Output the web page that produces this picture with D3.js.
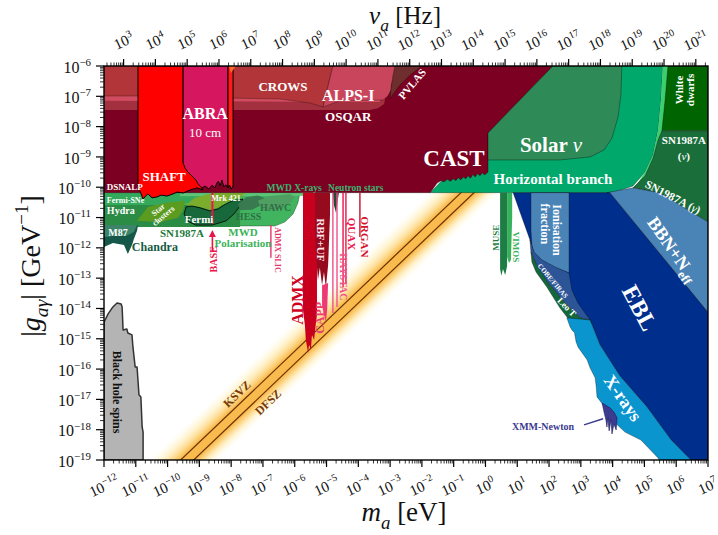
<!DOCTYPE html>
<html>
<head>
<meta charset="utf-8">
<title>Axion–photon coupling limits</title>
<script src="https://cdn.jsdelivr.net/npm/d3@7/dist/d3.min.js"></script>
<style>
  html, body { margin: 0; padding: 0; background: #ffffff; }
  svg { display: block; font-family: "Liberation Serif", "DejaVu Serif", serif; }
</style>
</head>
<body>
<svg id="chart" width="718" height="535"></svg>
<script>
// ---------- axes (log10 units) ----------
const massExponents = d3.range(-12, 8);          // m_a [eV]
const couplingExponents = d3.range(-19, -5);     // g [GeV^-1]
const freqExponents = d3.range(3, 22);           // nu_a [Hz]
const HZ_PER_EV = 2.418e14;

// ---------- QCD axion models: [log10 m, log10 g] ----------
const KSVZ_LINE = [[-13, -22.41], [1, -8.41]];
const DFSZ_LINE = [[-13, -22.82], [1, -8.82]];
const QCD_BAND = [[-13, -21.41], [4, -4.41], [4, -6.61], [-13, -23.61]];
const BAND_UP = 1.0, BAND_DOWN = 1.2, KSVZ_OFFSET = -9.41;

// ---------- excluded regions: [log10 m_a/eV, log10 g/GeV^-1] ----------
const CAST = [[-12,-6],[2.12,-6],[0.08,-8.21],[0.08,-9.50],[-0.03,-9.60],[-0.10,-9.52],[-0.17,-9.62],[-0.25,-9.55],[-0.32,-9.66],[-0.40,-9.58],[-0.47,-9.70],[-0.55,-9.62],[-0.62,-9.72],[-0.70,-9.66],[-0.78,-9.76],[-0.85,-9.68],[-0.93,-9.78],[-1.02,-9.72],[-1.10,-9.80],[-1.20,-9.74],[-1.30,-9.82],[-1.40,-9.79],[-1.52,-9.86],[-1.74,-10.18],[-12,-10.18]];
const HORIZONTAL_BRANCH = [[-1.74,-10.18],[0.08,-8.21],[2.12,-6],[5.58,-6],[5.52,-7.12],[5.43,-8.11],[5.27,-8.94],[5.02,-9.50],[4.64,-9.96],[4.07,-10.16],[3.82,-10.18]];
const HB_EDGE = [[5.58,-6],[5.77,-6],[5.67,-7.2],[5.56,-8.2],[5.41,-8.9],[5.16,-9.55],[4.92,-9.86],[4.72,-9.97],[5.02,-9.50],[5.27,-8.94],[5.43,-8.11],[5.52,-7.12]];
const SOLAR_NU = [[2.12,-6],[4.29,-6],[4.26,-6.96],[4.17,-7.68],[3.98,-8.38],[3.73,-8.77],[3.29,-9.00],[2.34,-9.10],[0.08,-9.10],[0.08,-8.21]];
const WHITE_DWARFS = [[5.74,-6],[7,-6],[7,-8.14],[5.55,-8.14],[5.65,-7.12]];
const SN1987A_NU = [[5.55,-8.14],[7,-8.14],[7,-11.15],[5.49,-10.19],[4.64,-10.02],[5.02,-9.63],[5.27,-9.04],[5.43,-8.44]];

const OSQAR = [[-12,-6],[-3.32,-6],[-3.13,-6.96],[-3.19,-7.25],[-3.38,-7.39],[-3.63,-7.45],[-12,-7.45]];
const PINK_BAND = [[-12,-6],[-3.38,-6],[-3.32,-7.19],[-12,-7.15]];
const CROWS = [[-12,-6],[-4.80,-6],[-4.95,-6.63],[-5.05,-7.06],[-5.11,-7.35],[-5.52,-7.22],[-6.46,-7.09],[-7.94,-7.06],[-10.93,-6.99],[-12,-6.99]];
const ALPS_I = [[-4.80,-6],[-2.75,-6],[-2.80,-6.08],[-2.85,-6.13],[-2.83,-6.22],[-2.91,-6.33],[-2.89,-6.42],[-2.94,-6.53],[-2.97,-6.79],[-3.07,-6.99],[-3.22,-7.12],[-4.58,-7.15],[-5.11,-7.35],[-5.02,-6.96],[-4.92,-6.53]];
const PVLAS = [[-2.85,-6],[-2.00,-6],[-2.37,-6.30],[-2.69,-6.63],[-2.88,-6.89],[-3.00,-7.09],[-2.97,-6.73],[-2.91,-6.33]];

const SHAFT = [[-10.93,-6],[-9.51,-6],[-9.51,-9.20],[-8.98,-9.93],[-8.89,-10.09],[-9.07,-10.02],[-9.29,-10.09],[-9.51,-10.19],[-9.70,-10.16],[-9.83,-10.22],[-10.02,-10.29],[-10.20,-10.26],[-10.33,-10.32],[-10.49,-10.35],[-10.62,-10.22],[-10.70,-10.30],[-10.77,-10.39],[-10.87,-10.12],[-10.93,-9.93]];
const ABRA = [[-9.51,-6],[-8.10,-6],[-8.10,-10.02],[-8.17,-9.92],[-8.23,-9.99],[-8.29,-9.76],[-8.35,-9.96],[-8.40,-9.80],[-8.45,-9.86],[-8.51,-10.02],[-8.60,-9.93],[-8.70,-10.06],[-8.82,-9.96],[-8.92,-10.02],[-9.04,-9.89],[-9.11,-9.76],[-9.23,-9.63],[-9.36,-9.50],[-9.45,-9.37],[-9.51,-9.20]];
const ABRA_STRIP = [[-8.10,-6],[-7.94,-6],[-7.94,-9.96],[-8.00,-10.06],[-8.05,-9.93],[-8.10,-10.02]];
const ABRA_TIP = [[-8.07,-6],[-7.85,-6],[-8.01,-6.23]];

// astrophysical bounds below the CAST line
const MWD_POLARISATION = [[-12,-10.18],[-5.83,-10.18],[-5.90,-10.52],[-6.05,-10.88],[-6.31,-11.15],[-6.62,-11.28],[-12,-11.28]];
const FERMI_SNE = [[-12,-10.18],[-8.51,-10.18],[-8.82,-10.32],[-9.29,-10.52],[-10.55,-10.59],[-12,-10.59]];
const MWD_XRAYS = [[-9.61,-10.18],[-4.99,-10.18],[-5.20,-10.28],[-9.61,-10.30]];
const HYDRA = [[-12,-10.59],[-10.87,-10.59],[-10.96,-10.85],[-11.05,-11.01],[-12,-11.01]];
const SN1987A_GAMMA = [[-12,-10.59],[-7.72,-10.59],[-7.72,-11.31],[-12,-11.31]];
const STAR_CLUSTERS = [[-10.96,-11.11],[-10.62,-10.65],[-10.08,-10.52],[-9.45,-10.45],[-9.51,-10.75],[-9.67,-11.01],[-10.24,-11.15]];
const MRK421 = [[-9.42,-10.59],[-9.14,-10.35],[-8.82,-10.26],[-8.51,-10.19],[-7.56,-10.19],[-7.72,-10.35],[-7.97,-10.42],[-8.23,-10.55],[-8.41,-10.68],[-8.67,-10.75],[-8.98,-10.65],[-9.23,-10.62]];
const FERMI = [[-9.48,-10.88],[-9.42,-10.65],[-9.23,-10.62],[-8.98,-10.68],[-8.67,-10.78],[-8.41,-10.72],[-8.23,-10.59],[-7.97,-10.45],[-7.63,-10.39],[-7.72,-10.62],[-7.91,-10.88],[-8.16,-11.11],[-8.60,-11.25],[-9.11,-11.25],[-9.39,-11.11]];
const HESS = [[-7.78,-10.55],[-7.53,-10.33],[-7.16,-10.27],[-6.90,-10.37],[-7.03,-10.58],[-7.34,-10.74],[-7.72,-10.76]];
const HAWC = [[-7.16,-10.45],[-6.78,-10.29],[-6.15,-10.22],[-5.99,-10.32],[-6.21,-10.59],[-6.62,-10.75],[-7.03,-10.75]];
const CHANDRA = [[-12,-11.25],[-10.93,-11.25],[-10.96,-11.44],[-11.06,-11.71],[-11.12,-11.91],[-11.25,-12.20],[-11.37,-11.91],[-11.72,-11.84],[-12,-11.97]];
const M87 = [[-12,-11.25],[-10.96,-11.25],[-11.06,-11.48],[-11.31,-11.61],[-11.69,-11.61],[-12,-11.64]];
const NEUTRON_STARS = [[-4.80,-10.18],[-4.61,-10.18],[-4.67,-10.59],[-4.70,-10.85],[-4.77,-10.59]];
const BLACK_HOLE_SPINS = [[-12,-19],[-12,-14.45],[-11.87,-14.18],[-11.72,-13.95],[-11.59,-13.82],[-11.46,-13.85],[-11.43,-13.95],[-11.40,-14.71],[-11.28,-14.68],[-11.25,-14.81],[-11.12,-14.87],[-11.09,-15.27],[-11.02,-15.93],[-10.96,-15.93],[-10.90,-16.85],[-10.84,-16.92],[-10.80,-17.91],[-10.77,-18.08],[-10.77,-19]];

// cosmology / X-ray / telescope bounds
const EBL = [[0.87,-10.18],[3.92,-10.18],[7,-14.12],[7,-19],[6.46,-19],[5.84,-18.34],[5.49,-17.84],[5.08,-17.25],[4.23,-16.23],[3.60,-15.20],[3.29,-14.38],[2.91,-13.89],[2.50,-13.39],[2.03,-12.99],[1.71,-12.57],[1.50,-12.07],[1.40,-11.74]];
const BBN_NEFF = [[3.82,-10.18],[4.64,-10.02],[5.49,-10.19],[7,-11.15],[7,-14.12],[3.92,-10.18]];
const IONISATION = [[1.43,-10.18],[2.63,-10.18],[2.63,-12.83],[2.19,-12.66],[1.78,-12.47],[1.53,-12.24],[1.46,-11.91],[1.43,-11.41]];
const COBE_FIRAS = [[1.40,-11.74],[1.53,-12.14],[1.78,-12.40],[2.19,-12.63],[2.63,-12.83],[2.72,-13.39],[2.91,-13.82],[3.29,-14.38],[2.97,-14.31],[2.50,-13.82],[1.97,-13.16],[1.62,-12.60],[1.43,-12.14]];
const LEO_T = [[1.43,-12.14],[1.62,-12.60],[1.97,-13.16],[2.50,-13.82],[2.97,-14.31],[3.29,-14.38],[3.35,-14.50],[2.66,-14.41],[2.34,-13.98],[1.93,-13.29],[1.59,-12.80],[1.46,-12.47]];
const XRAYS = [[2.56,-14.31],[2.66,-14.60],[2.72,-14.71],[2.80,-14.80],[2.85,-15.10],[2.91,-15.27],[3.10,-15.55],[3.20,-15.70],[3.29,-15.96],[3.45,-16.29],[3.48,-16.55],[3.51,-16.92],[3.70,-17.18],[3.98,-17.68],[4.39,-18.08],[4.89,-18.34],[5.43,-18.93],[5.46,-19],[6.46,-19],[5.84,-18.34],[5.49,-17.84],[5.08,-17.25],[4.23,-16.23],[3.60,-15.20],[3.29,-14.38]];
const XMM_NEWTON = [[3.67,-17.12],[3.73,-17.42],[3.79,-17.68],[3.82,-17.91],[3.85,-17.61],[3.89,-18.04],[3.95,-17.68],[3.98,-18.14],[4.04,-17.81],[4.11,-18.01],[4.14,-17.61],[4.04,-17.42],[3.92,-17.28]];
const XMM_POINTER = [[3.10,-17.84],[3.70,-17.64]];
const MUSE = [[0.46,-10.18],[0.68,-10.18],[0.68,-12.60],[0.62,-12.90],[0.55,-12.70],[0.50,-12.92],[0.46,-12.70]];
const VIMOS = [[0.68,-10.18],[0.84,-10.18],[0.84,-11.00],[0.80,-12.40],[0.74,-12.50],[0.68,-12.30]];

// haloscopes
const ADMX = [[-5.74,-10.18],[-5.30,-10.18],[-5.30,-14.21],[-5.36,-14.71],[-5.39,-15.04],[-5.46,-14.87],[-5.49,-15.37],[-5.55,-15.20],[-5.58,-15.47],[-5.65,-15.04],[-5.68,-14.55],[-5.74,-14.05]];
const RBF_UF = [[-5.36,-10.18],[-4.89,-10.18],[-4.89,-10.92],[-4.92,-11.74],[-4.95,-12.57],[-5.02,-13.32],[-5.08,-12.80],[-5.14,-13.23],[-5.21,-12.66],[-5.27,-13.06],[-5.33,-12.24],[-5.36,-11.41]];
const CAPP = [[-5.14,-13.23],[-4.95,-13.16],[-4.98,-14.05],[-5.02,-14.45],[-5.08,-14.21],[-5.14,-13.89]];
// [log10 m, upper log10 g, lower log10 g]
const HAYSTAC_LINES = [[-4.80,-10.18,-14.15],[-4.67,-10.18,-13.95]];
const QUAX_LINES = [[-4.48,-10.18,-13.29],[-4.39,-10.18,-13.16]];
const ORGAN_LINES = [[-3.95,-10.18,-11.64]];
const ADMX_SLIC_LINES = [[-6.75,-11.25,-12.33]];
const BASE_LINES = [[-8.59,-10.18,-11.21]];
const BASE_ARROW = [-8.59, -12.14, -11.41];

// ---------- scales ----------
const svg = d3.select('#chart');
const M = { l: 104, r: 708, t: 66, b: 460 };
const x = d3.scaleLog().domain([1e-12, 1e7]).range([M.l, M.r]);
const y = d3.scaleLog().domain([1e-19, 1e-6]).range([M.b, M.t]);
const xf = d3.scaleLog().domain([1e-12 * HZ_PER_EV, 1e7 * HZ_PER_EV]).range([M.l, M.r]);
const X = lm => x(Math.pow(10, lm));
const Y = lg => y(Math.pow(10, lg));
const lineGen = d3.line().x(p => X(p[0])).y(p => Y(p[1]));
const areaPath = pts => lineGen(pts) + 'Z';

const defs = svg.append('defs');
defs.append('clipPath').attr('id', 'plotClip')
  .append('rect').attr('x', M.l).attr('y', M.t).attr('width', M.r - M.l).attr('height', M.b - M.t);

// gradient across the QCD band (perpendicular to the g ∝ m lines)
const sx = X(1) - X(0), sy = Y(-10) - Y(-9);
const nrm = Math.hypot(sx, sy);
const gx0 = X(-8), gy0 = Y(-8 + KSVZ_OFFSET + BAND_UP);
const span = (BAND_UP + BAND_DOWN) * sy * sx / nrm;
const grad = defs.append('linearGradient').attr('id', 'qcdBand')
  .attr('gradientUnits', 'userSpaceOnUse')
  .attr('x1', gx0).attr('y1', gy0)
  .attr('x2', gx0 + span * sy / nrm).attr('y2', gy0 + span * sx / nrm);
const fOff = o => (BAND_UP - o) / (BAND_UP + BAND_DOWN);
[[1.0, '#fff3c0', 0], [0.6, '#ffe69a', 0.45], [0.25, '#fdd27a', 0.9], [0.05, '#f9bb4e', 1],
 [-0.46, '#f9bb4e', 1], [-0.66, '#fdd27a', 0.85], [-0.9, '#ffe69a', 0.4], [-1.2, '#fff3c0', 0]]
  .forEach(([o, c, a]) => grad.append('stop').attr('offset', fOff(o)).attr('stop-color', c).attr('stop-opacity', a));

const plot = svg.append('g').attr('clip-path', 'url(#plotClip)');
const edge = 'rgba(0,0,0,0.55)';
function region(pts, fill, stroke, sw) {
  plot.append('path').attr('d', areaPath(pts)).attr('fill', fill)
    .attr('stroke', stroke || 'none').attr('stroke-width', sw || 0.6).attr('stroke-linejoin', 'round');
}

// QCD band and model lines
plot.append('path').attr('d', areaPath(QCD_BAND)).attr('fill', 'url(#qcdBand)');
[KSVZ_LINE, DFSZ_LINE].forEach(l => plot.append('path').attr('d', lineGen(l))
  .attr('stroke', '#6b3000').attr('stroke-width', 1.2).attr('fill', 'none'));

region(BLACK_HOLE_SPINS, '#b4b4b4', '#333', 1.5);

// astrophysical bounds
region(MWD_POLARISATION, '#41b45f', edge, 0.5);
region(FERMI_SNE, '#34a85b');
region(MWD_XRAYS, '#5ec477');
region(HYDRA, '#46b38b');
region(SN1987A_GAMMA, '#2b8c45');
region(STAR_CLUSTERS, '#5b9b1f');
region(MRK421, '#7cac2b');
region(FERMI, '#17683b', '#000', 0.8);
region(HESS, '#3a7a50');
region(HAWC, '#4f9f62');
region(CHANDRA, '#15584a');
region(M87, '#3b8468');
region(NEUTRON_STARS, '#1d4d35');

// helioscope / stellar bounds
region(HORIZONTAL_BRANCH, '#00a86b', edge);
region(HB_EDGE, '#3ccf6e');
region(CAST, '#7b0021', edge);
region(SOLAR_NU, '#2e8b57', edge);
region(WHITE_DWARFS, '#006400', edge);
region(SN1987A_NU, '#1a6e3a', edge);

// light-shining-through-wall and birefringence
region(OSQAR, '#a2303e');
region(PINK_BAND, '#d24c60');
region(CROWS, '#b13539', edge, 0.5);
region(ALPS_I, '#c9455b', edge, 0.5);
region(PVLAS, '#6e2e2e', edge, 0.5);

// lumped-element searches
region(SHAFT, '#ff0000', '#000', 1);
region(ABRA, '#d6175f', '#000', 0.9);
region(ABRA_STRIP, '#ff1a1a', '#000', 1);
region(ABRA_TIP, '#ff6a2a');

// cosmology and X-rays
region(EBL, '#002e8c', edge);
region(BBN_NEFF, '#4a84b6', edge);
region(IONISATION, '#4a84b6', edge);
region(COBE_FIRAS, '#2c5598', edge);
region(LEO_T, '#14693a', edge);
region(XRAYS, '#0a95cf', edge);
region(XMM_NEWTON, '#3b3b8f', '#1c1c60', 0.6);
plot.append('path').attr('d', lineGen(XMM_POINTER)).attr('stroke', '#3b3b8f').attr('stroke-width', 1.4);
region(MUSE, '#1d7d45');
region(VIMOS, '#38b15c');

// haloscopes
region(ADMX, '#c8001e');
region(RBF_UF, '#960a1e');
region(CAPP, '#ee3a72');
function vlines(list, color, w) {
  list.forEach(([m, g1, g2]) => plot.append('line')
    .attr('x1', X(m)).attr('x2', X(m)).attr('y1', Y(g1)).attr('y2', Y(g2))
    .attr('stroke', color).attr('stroke-width', w || 1.4));
}
vlines(HAYSTAC_LINES, '#f0508a');
vlines(QUAX_LINES, '#e8174a');
vlines(ORGAN_LINES, '#c8102e');
vlines(ADMX_SLIC_LINES, '#e8336b');
vlines(BASE_LINES, '#e8174a', 2);
plot.append('line').attr('x1', X(BASE_ARROW[0])).attr('x2', X(BASE_ARROW[0]))
  .attr('y1', Y(BASE_ARROW[1])).attr('y2', Y(BASE_ARROW[2]) + 5)
  .attr('stroke', '#e8174a').attr('stroke-width', 1.6);
plot.append('path').attr('fill', '#e8174a')
  .attr('d', `M${X(BASE_ARROW[0])},${Y(BASE_ARROW[2])} l-3.5,7 l7,0 Z`);

// ---------- labels ----------
function drawText(parent, segs, px, py, opt) {
  const size = opt.size || 12;
  const g = parent.append('g').attr('transform', `translate(${px},${py}) rotate(${opt.rot || 0})`);
  (opt.lines || [segs]).forEach((line, li) => {
    const t = g.append('text').attr('x', 0).attr('y', size * 0.35 + li * size * (opt.lh || 1.05))
      .attr('text-anchor', opt.anchor || 'middle')
      .attr('font-size', size).attr('fill', opt.fill || '#fff')
      .attr('font-weight', opt.weight || 'bold');
    let cur = 0;
    line.forEach(([s, mode]) => {
      const ts = t.append('tspan').text(s);
      let target = 0;
      if (mode && mode.includes('sub')) { target = size * 0.28; ts.attr('font-size', size * 0.7); }
      if (mode && mode.includes('sup')) { target = -size * 0.42; ts.attr('font-size', size * 0.68); }
      if (mode && mode.includes('it')) ts.attr('font-style', 'italic');
      if (mode && mode.includes('nb')) ts.attr('font-weight', 'normal');
      if (target !== cur) { ts.attr('dy', target - cur); cur = target; }
    });
  });
  return g;
}
const bandAngle = -Math.atan2(sy, sx) * 180 / Math.PI;
const LABELS = [
  { t: [['CROWS']], at: [-6.37, -6.66], size: 13 },
  { t: [['ALPS-I']], at: [-4.32, -6.96], size: 16 },
  { t: [['OSQAR']], at: [-4.32, -7.65], size: 13 },
  { t: [['PVLAS']], at: [-2.31, -6.59], size: 11, rot: -50 },
  { t: [['ABRA']], at: [-8.82, -7.58], size: 16 },
  { t: [['10 cm', 'nb']], at: [-8.82, -8.18], size: 13 },
  { t: [['SHAFT']], at: [-10.11, -9.63], size: 13 },
  { t: [['DSNALP']], at: [-11.91, -9.99], size: 9, anchor: 'start' },
  { t: [['CAST']], at: [-0.99, -9.02], size: 23 },
  { t: [['Solar '], ['ν', 'it nb']], at: [2.06, -8.60], size: 21 },
  { t: [['Horizontal branch']], at: [2.12, -9.72], size: 15 },
  { lines: [[['White']], [['dwarfs']]], at: [6.10, -6.79], size: 11, rot: -90, lh: 0.95 },
  { t: [['SN1987A']], at: [6.24, -8.44], size: 11 },
  { t: [['('], ['ν', 'it nb'], [')']], at: [6.24, -8.97], size: 11 },
  { t: [['SN1987A ('], ['γ', 'it nb'], [')']], at: [5.90, -10.32], size: 11.5, rot: 27 },
  { t: [['BBN+N'], ['eff', 'sub']], at: [5.90, -12.04], size: 18, rot: 55 },
  { t: [['EBL']], at: [4.86, -13.98], size: 24, rot: 62 },
  { t: [['X-rays']], at: [4.33, -16.95], size: 18, rot: 55 },
  { t: [['Ionisation']], at: [2.25, -11.41], size: 12, rot: 90 },
  { t: [['fraction']], at: [1.87, -11.21], size: 12, rot: 90 },
  { t: [['COBE/FIRAS']], at: [2.12, -13.09], size: 7, rot: 50 },
  { t: [['Leo T']], at: [2.56, -13.95], size: 9, rot: 45 },
  { t: [['XMM-Newton']], at: [1.81, -17.91], size: 10, fill: '#3b3b8f' },
  { t: [['MUSE']], at: [0.33, -11.67], size: 9, rot: -90, fill: '#1d7d45' },
  { t: [['VIMOS']], at: [0.96, -11.97], size: 9, rot: 90, fill: '#38b15c' },
  { t: [['Black hole spins']], at: [-11.59, -16.76], size: 12, rot: 90, fill: '#111' },
  { t: [['KSVZ']], at: [-7.82, -16.82], size: 12, rot: bandAngle, fill: '#7a3a05' },
  { t: [['DFSZ']], at: [-6.84, -17.09], size: 12, rot: bandAngle, fill: '#7a3a05' },
  { t: [['ADMX']], at: [-5.93, -13.72], size: 16, rot: -90, fill: '#d0001e' },
  { t: [['RBF+UF']], at: [-5.17, -11.74], size: 11, rot: 90, fill: '#ffe6ec' },
  { t: [['CAPP']], at: [-5.21, -14.31], size: 12, rot: -90, fill: '#ee3a72' },
  { t: [['HAYSTAC']], at: [-4.48, -12.96], size: 10, rot: 90, fill: '#f0508a' },
  { t: [['QUAX']], at: [-4.20, -11.54], size: 11, rot: 90, fill: '#e8174a' },
  { t: [['ORGAN']], at: [-3.79, -11.64], size: 11, rot: 90, fill: '#d4102a' },
  { t: [['ADMX SLIC']], at: [-6.53, -12.07], size: 8, rot: 90, fill: '#e8336b' },
  { t: [['BASE']], at: [-8.57, -12.38], size: 10, rot: -90, fill: '#e8174a' },
  { t: [['MWD']], at: [-7.63, -11.48], size: 11, fill: '#3cb35a' },
  { t: [['Polarisation']], at: [-7.63, -11.84], size: 11, fill: '#3cb35a' },
  { t: [['SN1987A']], at: [-9.55, -11.51], size: 11, fill: '#1a7a3a' },
  { t: [['Chandra']], at: [-10.40, -11.97], size: 12, fill: '#145a46' },
  { t: [['M87']], at: [-11.56, -11.48], size: 10 },
  { t: [['Hydra']], at: [-11.91, -10.78], size: 10, anchor: 'start' },
  { t: [['Fermi-SNe']], at: [-11.91, -10.42], size: 8, anchor: 'start' },
  { lines: [[['Star']], [['clusters']]], at: [-10.30, -10.74], size: 8, rot: -40, lh: 1.0 },
  { t: [['Fermi']], at: [-9.01, -11.05], size: 11 },
  { t: [['Mrk 421']], at: [-8.16, -10.35], size: 8 },
  { t: [['HESS']], at: [-7.45, -10.95], size: 10, fill: '#2f6e45' },
  { t: [['HAWC']], at: [-6.60, -10.66], size: 10, fill: '#2f6e45' },
  { t: [['MWD X-rays']], at: [-6.02, -10.02], size: 9.5, fill: '#3cb371' },
  { t: [['Neutron stars']], at: [-4.08, -10.02], size: 9.5, fill: '#3cb371' },
];
const labelLayer = svg.append('g').attr('clip-path', 'url(#plotClip)');
LABELS.forEach(L => drawText(labelLayer, L.t, X(L.at[0]), Y(L.at[1]), L));

// ---------- frame and axes ----------
const axes = svg.append('g');
axes.append('rect').attr('x', M.l).attr('y', M.t).attr('width', M.r - M.l).attr('height', M.b - M.t)
  .attr('fill', 'none').attr('stroke', '#000').attr('stroke-width', 1.4);
const tick = (x1, y1, x2, y2, w) => axes.append('line').attr('x1', x1).attr('y1', y1).attr('x2', x2).attr('y2', y2)
  .attr('stroke', '#000').attr('stroke-width', w || 1);
const minors = [2, 3, 4, 5, 6, 7, 8, 9];

// bottom: mass
massExponents.forEach(k => {
  const px = x(Math.pow(10, k));
  tick(px, M.b, px, M.b + 7, 1.2);
  if (k < 7) minors.forEach(j => { const p = x(j * Math.pow(10, k)); tick(p, M.b, p, M.b + 3.5, 0.8); });
  drawText(axes, [['10'], [(k < 0 ? '−' : '') + Math.abs(k), 'sup']], px, 486,
    { size: 15, rot: -25, fill: '#111', weight: 'normal' });
});
// top: frequency
for (let n = 2; n <= 21; n++) {
  minors.concat([1]).forEach(j => {
    const v = j * Math.pow(10, n);
    if (v < xf.domain()[0] || v > xf.domain()[1]) return;
    const p = xf(v);
    if (j === 1) tick(p, M.t, p, M.t - 7, 1.2); else tick(p, M.t, p, M.t - 3.5, 0.8);
  });
}
freqExponents.forEach(n => drawText(axes, [['10'], [String(n), 'sup']], xf(Math.pow(10, n)), 41,
  { size: 15, rot: -25, fill: '#111', weight: 'normal' }));
// left: coupling
couplingExponents.forEach(k => {
  const py = y(Math.pow(10, k));
  tick(M.l - 8, py, M.l, py, 1.2);
  if (k < -6) minors.forEach(j => { const p = y(j * Math.pow(10, k)); tick(M.l - 4, p, M.l, p, 0.8); });
  drawText(axes, [['10'], ['−' + Math.abs(k), 'sup']], 91, py + 1, { size: 16, fill: '#111', weight: 'normal', anchor: 'end' });
});

// axis titles
drawText(axes, [['ν', 'it'], ['a', 'sub it'], [' [Hz]']], 405, 15, { size: 25, fill: '#111', weight: 'normal' });
drawText(axes, [['m', 'it'], ['a', 'sub it'], [' [eV]']], 404, 512, { size: 27, fill: '#111', weight: 'normal' });
drawText(axes, [['|'], ['g', 'it'], ['aγ', 'sub it'], ['| [GeV'], ['−1', 'sup'], [']']], 30, 266,
  { size: 28, rot: -90, fill: '#111', weight: 'normal' });
</script>
</body>
</html>
